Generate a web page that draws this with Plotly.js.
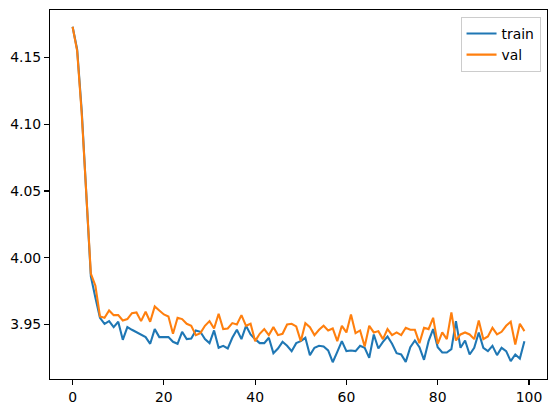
<!DOCTYPE html>
<html>
<head>
<meta charset="utf-8">
<script src="https://cdn.plot.ly/plotly-3.0.1.min.js"></script>
<style>html,body{margin:0;padding:0;background:#fff;}#chart{width:556px;height:413px;}</style>
</head>
<body>
<div id="chart"></div>
<script>
const epochs = Array.from({length: 100}, (_, i) => i);
const trainLoss = [
4.173, 4.156, 4.110, 4.050, 3.986, 3.970, 3.955, 3.9505, 3.9525, 3.948,
3.952, 3.9385, 3.948, 3.946, 3.944, 3.9425, 3.9405, 3.9355, 3.9465, 3.9405,
3.9405, 3.9405, 3.937, 3.9355, 3.9445, 3.939, 3.9395, 3.9455, 3.9445, 3.939,
3.936, 3.9455, 3.9325, 3.934, 3.932, 3.940, 3.946, 3.939, 3.949, 3.9425,
3.939, 3.936, 3.936, 3.940, 3.9285, 3.932, 3.937, 3.934, 3.930, 3.936,
3.9375, 3.940, 3.927, 3.9325, 3.934, 3.9335, 3.9305, 3.9217, 3.9295, 3.9375,
3.930, 3.9305, 3.930, 3.934, 3.9325, 3.925, 3.9425, 3.932, 3.937, 3.941,
3.9355, 3.9285, 3.9275, 3.922, 3.933, 3.938, 3.933, 3.9235, 3.9375, 3.9465,
3.933, 3.929, 3.929, 3.9315, 3.9525, 3.9325, 3.938, 3.9275, 3.9325, 3.944,
3.9325, 3.930, 3.934, 3.927, 3.9325, 3.930, 3.9225, 3.9275, 3.9245, 3.9375
];
const valLoss = [
4.173, 4.155, 4.108, 4.050, 3.988, 3.979, 3.956, 3.955, 3.9605, 3.957,
3.957, 3.953, 3.954, 3.9585, 3.959, 3.9525, 3.9595, 3.952, 3.9635, 3.9605,
3.9575, 3.956, 3.943, 3.955, 3.954, 3.9505, 3.949, 3.942, 3.9435, 3.949,
3.9525, 3.947, 3.958, 3.9465, 3.947, 3.951, 3.950, 3.957, 3.949, 3.9505,
3.9375, 3.943, 3.9465, 3.942, 3.948, 3.942, 3.943, 3.950, 3.9505, 3.9485,
3.9375, 3.951, 3.948, 3.942, 3.946, 3.949, 3.9455, 3.947, 3.9375, 3.949,
3.944, 3.9575, 3.9435, 3.9455, 3.9335, 3.949, 3.944, 3.945, 3.939, 3.9465,
3.942, 3.944, 3.942, 3.9475, 3.946, 3.946, 3.936, 3.9475, 3.9465, 3.955,
3.9355, 3.944, 3.939, 3.959, 3.938, 3.9425, 3.944, 3.9425, 3.939, 3.953,
3.939, 3.941, 3.9475, 3.9425, 3.9445, 3.949, 3.952, 3.935, 3.9505, 3.945
];
const seriesNames = ['train', 'val'];
const xTicks = [0, 20, 40, 60, 80, 100];
const yTicks = [3.95, 4.00, 4.05, 4.10, 4.15];

const all = trainLoss.concat(valLoss);
const ymin = Math.min(...all), ymax = Math.max(...all);
const ypad = (ymax - ymin) * 0.05;
const xmin = Math.min(...epochs), xmax = Math.max(...epochs);
const xpad = (xmax - xmin) * 0.05;

const font = {family: 'DejaVu Sans, sans-serif', size: 13.9, color: '#000'};
const traces = [
  {x: epochs, y: trainLoss, name: seriesNames[0], type: 'scatter', mode: 'lines', line: {color: '#1f77b4', width: 2.08}},
  {x: epochs, y: valLoss, name: seriesNames[1], type: 'scatter', mode: 'lines', line: {color: '#ff7f0e', width: 2.08}}
];
const axisCommon = {
  showgrid: false, zeroline: false, showline: true, mirror: true,
  linecolor: '#000', linewidth: 1.1, ticks: 'outside', ticklen: 4.9, tickwidth: 1.1,
  tickcolor: '#000', tickfont: font
};
const layout = {
  width: 556, height: 413,
  margin: {l: 50, r: 9, t: 10, b: 34},
  paper_bgcolor: '#fff', plot_bgcolor: '#fff',
  font: font,
  showlegend: true,
  xaxis: Object.assign({}, axisCommon, {range: [xmin - xpad, xmax + xpad], tickmode: 'array', tickvals: xTicks, ticktext: xTicks.map(String)}),
  yaxis: Object.assign({}, axisCommon, {range: [ymin - ypad, ymax + ypad], tickmode: 'array', tickvals: yTicks, ticktext: yTicks.map(v => v.toFixed(2))}),
  legend: {x: 0.987, xanchor: 'right', y: 0.981, yanchor: 'top', bgcolor: 'rgba(255,255,255,0.8)', bordercolor: '#cccccc', borderwidth: 1, font: font, tracegroupgap: 0, itemwidth: 30}
};
Plotly.newPlot('chart', traces, layout, {displayModeBar: false, staticPlot: true});
</script>
</body>
</html>
